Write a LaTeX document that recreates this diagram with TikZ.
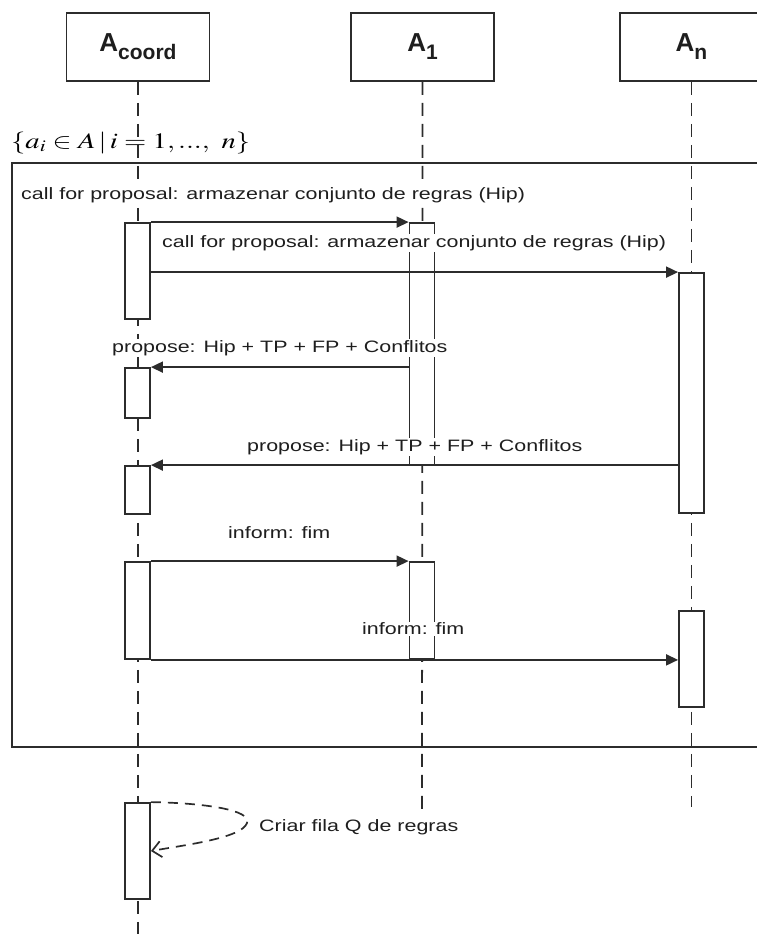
\documentclass[tikz,border=0pt]{standalone}
\usepackage{mathptmx}
\usepackage{fontspec}
\setsansfont{Liberation Sans}
\usepackage{graphicx}
\usetikzlibrary{arrows.meta, positioning, calc}
\definecolor{umlline}{HTML}{2C2C2C}
\definecolor{umltext}{HTML}{1E1E1E}
\newcommand{\wide}[1]{\scalebox{1.3}[1]{#1}}
\newcommand{\headname}[1]{\bfseries\fontsize{26}{30}\selectfont A\raisebox{-8pt}{\fontsize{21}{24}\selectfont #1}}

\begin{document}
\begin{tikzpicture}[x=1pt, y=-1pt,
  headbox/.style={draw=umlline, line width=1.9pt, fill=white, minimum width=143pt, minimum height=68pt, inner sep=0pt, font=\sffamily, text=umltext},
  lifeline/.style={draw=umlline, line width=1.8pt, dash pattern=on 13pt off 8pt},
  actbox/.style={draw=umlline, line width=1.8pt, fill=white, minimum width=25pt, inner sep=0pt},
  msg/.style={draw=umlline, line width=1.8pt, -{Triangle[length=12pt, width=11pt]}},
  selfmsg/.style={draw=umlline, line width=1.7pt, dash pattern=on 10pt off 7pt, -{Straight Barb[length=9pt, width=16pt]}},
  msglabel/.style={font=\sffamily\fontsize{16.5}{19}\selectfont, text=umltext, fill=white, inner sep=1pt, anchor=west},
  frame/.style={draw=umlline, line width=2.1pt}
]
  \useasboundingbox (0,0) rectangle (757,934);
  \clip (0,0) rectangle (757,934);

  % Heads
  \node[headbox] (coord) at (138,47) {\headname{coord}};
  \node[headbox] (one) at (422.5,47) {\headname{1}};
  \node[headbox] (last) at (691.5,47) {\headname{n}};

  % Lifelines
  \coordinate (coordend) at (138,934);
  \coordinate (oneend) at (422,810);
  \coordinate (lastend) at (691.5,807);
  \draw[lifeline] (coord.south) -- (coordend);
  \draw[lifeline] (one.south) -- (oneend);
  \draw[lifeline] (last.south) -- (lastend);

  % Guard
  \node[anchor=west, inner sep=0pt, font=\fontsize{22}{26}\selectfont] (guard) at (11,143) {\scalebox{1.3}[1]{$\{a_i \in A \,|\, i = 1,...,\ n\}$}};

  % Frame
  \draw[frame] (12,163) rectangle (775,747);

  % Activations
  \node[actbox, minimum height=96pt] (c1) at (137.5,271) {};
  \node[actbox, minimum height=242pt] (a1) at (422,344) {};
  \node[actbox, minimum height=240pt] (n1) at (691.5,393) {};
  \node[actbox, minimum height=50pt] (c2) at (137.5,393) {};
  \node[actbox, minimum height=48pt] (c3) at (137.5,490) {};
  \node[actbox, minimum height=97pt] (c4) at (137.5,610.5) {};
  \node[actbox, minimum height=97pt] (a2) at (422,610.5) {};
  \node[actbox, minimum height=96pt] (n2) at (691.5,659) {};
  \node[actbox, minimum height=96pt] (c5) at (137.5,851) {};

  % Messages
  \draw[msg] (c1.north east) -- (a1.north west);
  \draw[msg] (n1.north west -| c1.east) -- (n1.north west);
  \draw[msg] (c2.north east -| a1.west) -- (c2.north east);
  \draw[msg] (c3.north east -| n1.west) -- (c3.north east);
  \draw[msg] (c4.north east) -- (a2.north west);
  \draw[msg] (c4.south east) -- (c4.south east -| n2.west);

  % Self message
  \coordinate (turn) at (247,823);
  \draw[selfmsg] (c5.north east) .. controls (205,803) and (252,810) .. (turn) .. controls (242,838) and (185,845) .. (c5.east);

  % Labels
  \node[msglabel] (cfp1) at (20,195) {\wide{call for proposal: armazenar conjunto de regras (Hip)}};
  \node[msglabel] (cfp2) at (161,243) {\wide{call for proposal: armazenar conjunto de regras (Hip)}};
  \node[msglabel] (prop1) at (111,348) {\wide{propose: Hip + TP + FP + Conflitos}};
  \node[msglabel] (prop2) at (246,447) {\wide{propose: Hip + TP + FP + Conflitos}};
  \node[msglabel] (fim1) at (227,533) {\wide{inform: fim}};
  \node[msglabel] (fim2) at (361,629) {\wide{inform: fim}};
  \node[msglabel, fill=none] (criar) at (258,827) {\wide{Criar fila Q de regras}};
\end{tikzpicture}
\end{document}
